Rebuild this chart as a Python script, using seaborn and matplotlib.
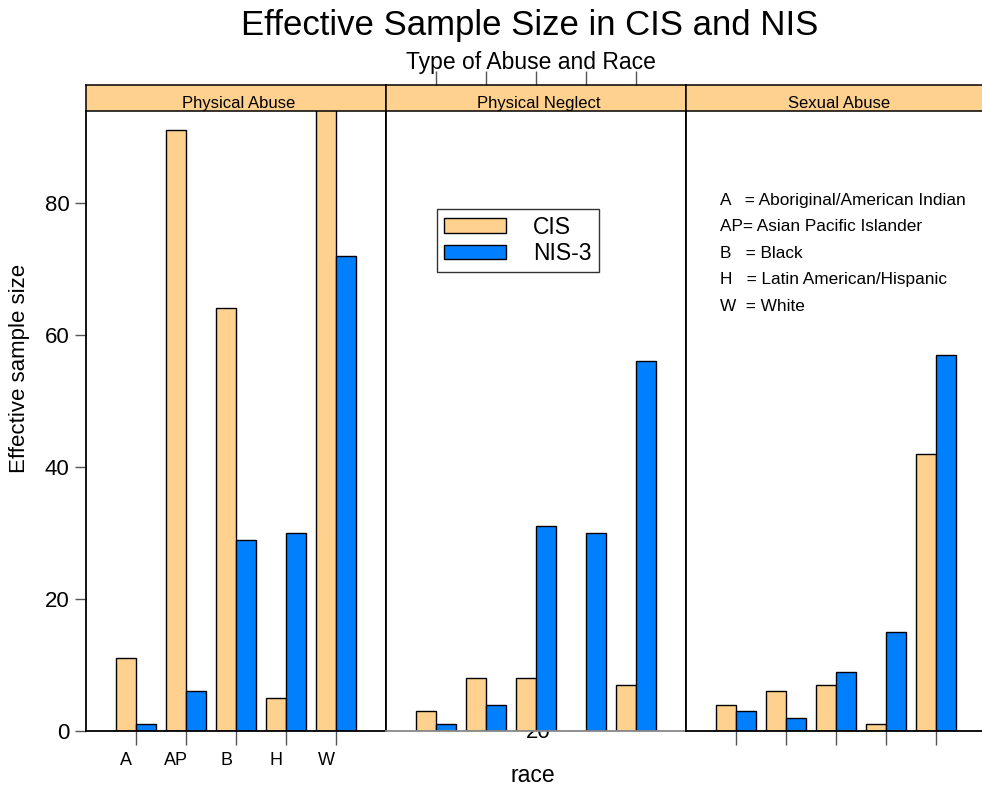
import matplotlib
matplotlib.use("Agg")
import matplotlib.pyplot as plt
import seaborn as sns
import numpy as np
import pandas as pd

# values
races = ["A", "AP", "B", "H", "W"]
abuse_types = ["Physical Abuse", "Physical Neglect", "Sexual Abuse"]
studies = ["CIS", "NIS-3"]
cis = {
    "Physical Abuse": [11, 91, 64, 5, 96],
    "Physical Neglect": [3, 8, 8, 0, 7],
    "Sexual Abuse": [4, 6, 7, 1, 42],
}
nis3 = {
    "Physical Abuse": [1, 6, 29, 30, 72],
    "Physical Neglect": [1, 4, 31, 30, 56],
    "Sexual Abuse": [3, 2, 9, 15, 57],
}
key_lines = [
    "A   = Aboriginal/American Indian",
    "AP= Asian Pacific Islander",
    "B   = Black",
    "H   = Latin American/Hispanic",
    "W  = White",
]
yticks = [0, 20, 40, 60, 80]
colors = ["#FFD18F", "#0080FF"]
strip_color = "#FFD18F"

rows = []
for t in abuse_types:
    for r, c, n in zip(races, cis[t], nis3[t]):
        rows.append((t, r, "CIS", c))
        rows.append((t, r, "NIS-3", n))
df = pd.DataFrame(rows, columns=["type", "race", "study", "size"])

sns.set_theme(style="white")
plt.rcParams["font.family"] = ["Liberation Sans", "DejaVu Sans"]
plt.rcParams["text.color"] = "black"
plt.rcParams["axes.labelcolor"] = "black"
plt.rcParams["xtick.labelcolor"] = "black"
plt.rcParams["ytick.labelcolor"] = "black"

W, H = 982, 788
fig = plt.figure(figsize=(W / 100, H / 100), dpi=100)

def px_axes(x0, y0, x1, y1):
    return fig.add_axes([x0 / W, 1 - y1 / H, (x1 - x0) / W, (y1 - y0) / H])

panel_left = [86, 386, 686]
for i, t in enumerate(abuse_types):
    x0 = panel_left[i]
    ax = px_axes(x0, 111, x0 + 300, 731)
    sub = df[df["type"] == t]
    sns.barplot(data=sub, x="race", y="size", hue="study", order=races,
                hue_order=studies, palette=colors, saturation=1, width=0.8,
                edgecolor="black", linewidth=1, ax=ax,
                legend=(t == "Physical Neglect"))
    ax.set_xlim(-1, 5)
    ax.set_ylim(0, 93.9)
    ax.set_xlabel("")
    ax.set_ylabel("")
    for s in ax.spines.values():
        s.set_color("black")
        s.set_linewidth(1.3)
    ax.spines["top"].set_visible(False)
    pos = np.arange(len(races))

    if i == 0:
        ax.set_yticks(yticks)
        ax.set_yticklabels([str(v) for v in yticks], fontsize=16)
        ax.tick_params(axis="y", left=True, length=8, width=1, color="#555",
                       direction="out", pad=4)
        ax.set_xticks(pos)
        ax.set_xticklabels([""] * len(races))
        ax.set_xticks(pos - 0.2, minor=True)
        ax.set_xticklabels(races, minor=True, fontsize=13)
        ax.tick_params(axis="x", which="major", bottom=True, length=10,
                       width=1, color="#555", direction="out")
        ax.tick_params(axis="x", which="minor", bottom=True, length=0, pad=15)
    else:
        ax.set_yticks([])
        if i == 2:
            ax.set_xticks(pos)
            ax.set_xticklabels([""] * len(races))
            ax.tick_params(axis="x", bottom=True, length=10, width=1,
                           color="#555", direction="out")
        else:
            ax.set_xticks([])
            ax.spines["bottom"].set_color("#888")

    if t == "Physical Neglect":
        handles, labels = ax.get_legend_handles_labels()
        ax.legend(handles, labels, loc="upper left",
                  bbox_to_anchor=(0.17, 0.842), borderaxespad=0,
                  fancybox=False, frameon=True, edgecolor="black",
                  fontsize=16.5, handlelength=2.7, handleheight=0.6,
                  handletextpad=1.2, borderpad=0.3, labelspacing=0.15)
        ax.get_legend().get_frame().set_linewidth(1)

    if t == "Sexual Abuse":
        for k, line in enumerate(key_lines):
            ypx = 200 + k * 26.5
            ax.text((720 - x0) / 300, (731 - ypx) / 620, line,
                    transform=ax.transAxes, fontsize=12.4, va="center",
                    ha="left")

    # strip
    sax = px_axes(x0, 85, x0 + 300, 111)
    sax.set_facecolor(strip_color)
    sax.set_xlim(-1, 5)
    sax.set_yticks([])
    for s in sax.spines.values():
        s.set_color("black")
        s.set_linewidth(1.1)
    if i == 1:
        sax.set_xticks(pos)
        sax.set_xticklabels([])
        sax.tick_params(axis="x", top=True, bottom=False, length=10, width=1,
                        color="#555", direction="out", labeltop=False,
                        labelbottom=False)
    else:
        sax.set_xticks([])
    sax.text(0.51, 0.0, t, transform=sax.transAxes, ha="center",
             va="bottom", fontsize=12)

# leftover "20" label half hidden behind the middle panel
fig.text(538 / W, 1 - 733 / H, "20", ha="center", va="center",
         fontsize=16, zorder=-1)

fig.text(530 / W, 1 - 26 / H, "Effective Sample Size in CIS and NIS",
         ha="center", va="center", fontsize=25)
fig.text(531 / W, 1 - 62 / H, "Type of Abuse and Race", ha="center",
         va="center", fontsize=16.5)
fig.text(533 / W, 1 - 775 / H, "race", ha="center", va="center",
         fontsize=16.5)
fig.text(20 / W, 1 - 368 / H, "Effective sample size", ha="center",
         va="center", rotation=90, fontsize=16)

fig.savefig("out.png", dpi=100)
